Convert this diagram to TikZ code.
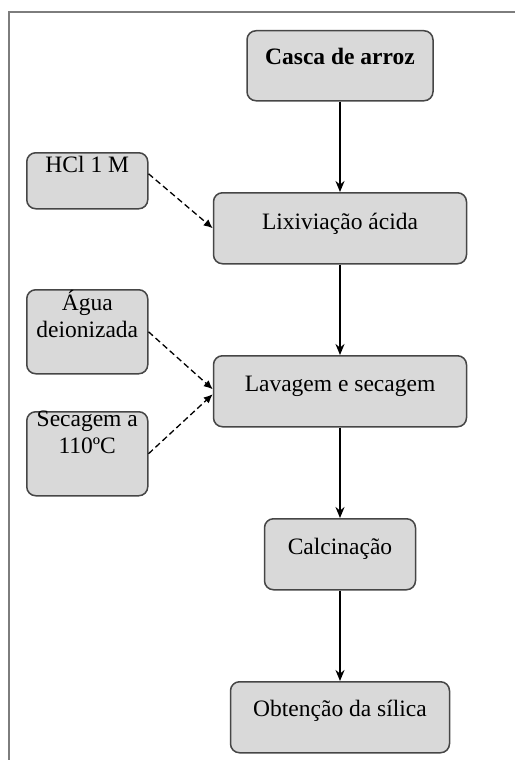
\documentclass[tikz,border=0pt]{standalone}
\usepackage{fontspec}
\setmainfont{Liberation Serif}
\usetikzlibrary{arrows.meta,positioning}
\definecolor{boxfill}{RGB}{217,217,217}
\definecolor{boxline}{RGB}{70,70,70}
\definecolor{framegray}{RGB}{125,125,125}
\tikzset{
  stepbox/.style={rectangle, rounded corners=9pt, draw=boxline, fill=boxfill,
                  line width=1.5pt, inner sep=0pt},
  sidebox/.style={stepbox, minimum width=121pt, anchor=north west},
  steptxt/.style={font=\fontsize{23.5}{27}\selectfont, inner sep=0pt,
                  anchor=base, align=center},
  flow/.style={-{Stealth[length=11pt,width=9pt]}, line width=2pt},
  feed/.style={-{Latex[length=9pt,width=8pt]}, line width=1.3pt,
               dash pattern=on 6pt off 3.5pt},
}

\begin{document}
\begin{tikzpicture}[x=1pt, y=-1pt]
  \useasboundingbox (0,0) rectangle (515,760);
  \draw[framegray, line width=2pt] (9,760) -- (9,12) -- (515,12);
  % main process steps
  \node[stepbox, minimum width=186pt, minimum height=70pt, anchor=north,
        label={[steptxt, yshift=-35pt]north:\textbf{Casca de arroz}}] (casca) at (340,30) {};
  \node[stepbox, minimum width=253pt, minimum height=71pt, anchor=north,
        label={[steptxt, yshift=-37pt]north:Lixiviação ácida}] (lix) at (340,192) {};
  \node[stepbox, minimum width=253pt, minimum height=71pt, anchor=north,
        label={[steptxt, yshift=-36pt]north:Lavagem e secagem}] (lav) at (340,355) {};
  \node[stepbox, minimum width=151pt, minimum height=71pt, anchor=north,
        label={[steptxt, yshift=-36pt]north:Calcinação}] (calc) at (340,518) {};
  \node[stepbox, minimum width=219pt, minimum height=71pt, anchor=north,
        label={[steptxt, yshift=-35pt]north:Obtenção da sílica}] (obt) at (340,681) {};
  % inputs
  \node[sidebox, minimum height=56pt,
        label={[steptxt, yshift=-20pt]north:HCl 1 M}] (hcl) at (26,152) {};
  \node[sidebox, minimum height=84pt,
        label={[steptxt, yshift=-48pt]north:Água\\deionizada}] (agua) at (26,289) {};
  \node[sidebox, minimum height=84pt,
        label={[steptxt, yshift=-42pt]north:Secagem a\\110ºC}] (sec) at (26,411) {};
  \draw[flow] (casca) -- (lix);
  \draw[flow] (lix) -- (lav);
  \draw[flow] (lav) -- (calc);
  \draw[flow] (calc) -- (obt);
  \draw[feed] ([yshift=7pt]hcl.east) -- (lix.west);
  \draw[feed] (agua.east) -- ([yshift=2pt]lav.west);
  \draw[feed] (sec.east) -- ([yshift=-3pt]lav.west);
\end{tikzpicture}
\end{document}
